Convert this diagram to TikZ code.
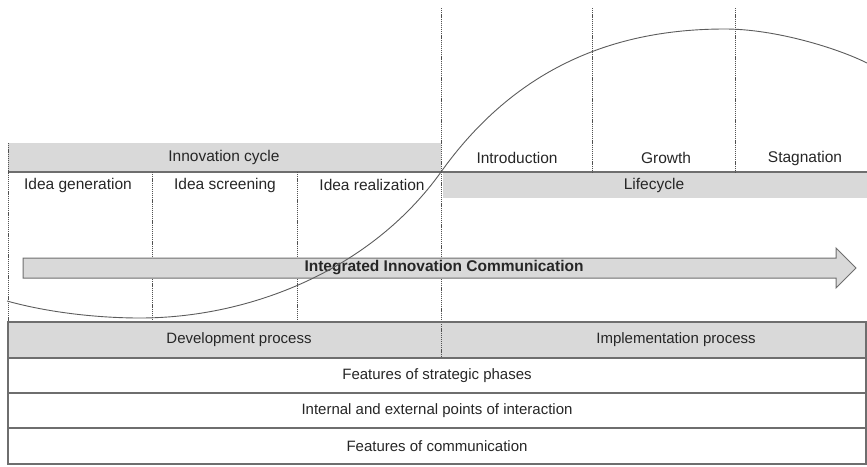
\documentclass[tikz,border=0pt]{standalone}
\usepackage{fontspec}
\setmainfont{Liberation Sans}
\definecolor{barfill}{HTML}{D9D9D9}
\definecolor{rule}{HTML}{6E6E6E}
\definecolor{ink}{HTML}{262626}
\begin{document}
\begin{tikzpicture}[x=1pt,y=-1pt,
  lbl/.style={text=ink,font=\fontsize{15.5}{18}\selectfont,inner sep=0pt},
  rowlbl/.style={lbl,font=\fontsize{15}{18}\selectfont},
  rowbox/.style={draw=rule,line width=1.3pt},
  divider/.style={draw=ink!80,line width=0.5pt,dash pattern=on 1.2pt off 0.9pt},
  curve/.style={draw=ink!75,line width=0.9pt}]
\useasboundingbox (0,0) rectangle (867,466);

% phase bars
\fill[barfill] (8,143) rectangle (441,172);
\fill[barfill] (443,172) rectangle (867,198);
\draw[rule,line width=1.3pt] (8,172) -- (441,172);
\draw[rule,line width=1.3pt] (441,172) -- (867,172);

% vertical phase dividers
\draw[divider] (8,143) -- (8,322);
\draw[divider] (152,172) -- (152,322);
\draw[divider] (297,172) -- (297,322);
\draw[divider] (441,8) -- (441,358);
\draw[divider] (592,8) -- (592,172);
\draw[divider] (735,8) -- (735,172);

% communication arrow
\draw[draw=rule,fill=barfill,line width=1pt,line join=miter]
  (23,258) -- (836,258) -- (836,248) -- (856,268) -- (836,288)
  -- (836,278) -- (23,278) -- cycle;
\node[lbl,font=\fontsize{15.5}{18}\selectfont\bfseries] (iic) at (444,268) {Integrated Innovation Communication};

% diffusion curve
\draw[curve] (7,301) .. controls (50,313) and (100,318) .. (140,318)
  .. controls (250,318) and (371,270) .. (441,172)
  .. controls (521,60) and (625,29) .. (725,29)
  .. controls (775,29) and (837,48) .. (867,63);

% bottom rows
\fill[barfill] (8,322) rectangle (866,358);
\draw[divider] (441,322) -- (441,358);
\draw[rowbox] (8,322) rectangle (866,358);
\draw[rowbox] (8,358) rectangle (866,393);
\draw[rowbox] (8,393) rectangle (866,428);
\draw[rowbox] (8,428) rectangle (866,464);

% labels
\node[lbl] (ic)  at (224,157) {Innovation cycle};
\node[lbl] (ig)  at (78,185)  {Idea generation};
\node[lbl] (isc) at (225,185) {Idea screening};
\node[lbl] (ir)  at (372,185) {Idea realization};
\node[lbl] (in)  at (517,158) {Introduction};
\node[lbl] (gr)  at (666,158) {Growth};
\node[lbl] (st)  at (805,158) {Stagnation};
\node[lbl] (lc)  at (654,185) {Lifecycle};
\node[rowlbl] (dp)  at (239,340) {Development process};
\node[rowlbl] (ip)  at (676,340) {Implementation process};
\node[rowlbl] (fs)  at (437,376) {Features of strategic phases};
\node[rowlbl] (ie)  at (437,411) {Internal and external points of interaction};
\node[rowlbl] (fc)  at (437,446) {Features of communication};
\end{tikzpicture}
\end{document}
